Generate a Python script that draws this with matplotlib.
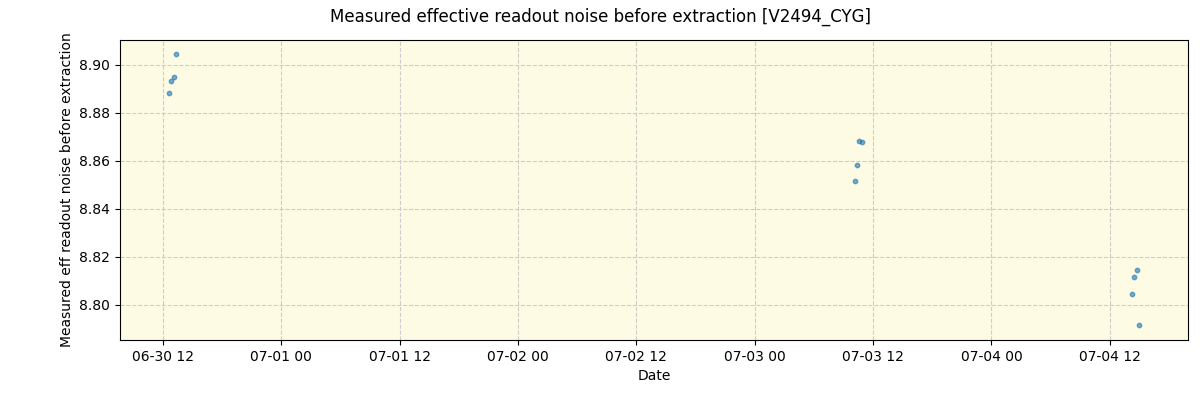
import matplotlib
matplotlib.use("Agg")
import matplotlib.pyplot as plt
import matplotlib.dates as mdates
import pandas as pd

times = pd.to_datetime([
    "2024-06-30 12:37", "2024-06-30 12:49", "2024-06-30 13:07", "2024-06-30 13:19",
    "2024-07-03 10:10", "2024-07-03 10:22", "2024-07-03 10:34", "2024-07-03 10:53",
    "2024-07-04 14:14", "2024-07-04 14:26", "2024-07-04 14:45", "2024-07-04 14:57",
])
noise = [8.8885, 8.8935, 8.8950, 8.9045,
         8.8515, 8.8585, 8.8685, 8.8680,
         8.8045, 8.8115, 8.8145, 8.7915]

fig, ax = plt.subplots(figsize=(12, 4), dpi=100)
ax.set_facecolor("#fdfbe3")
ax.scatter(times, noise, s=10, color="tab:blue", alpha=0.6)
ax.set_xlim(pd.Timestamp("2024-06-30 07:38"), pd.Timestamp("2024-07-04 19:56"))
ax.set_ylim(8.7854, 8.9104)
ax.xaxis.set_major_locator(mdates.HourLocator(byhour=[0, 12]))
ax.xaxis.set_major_formatter(mdates.DateFormatter("%m-%d %H"))
ax.grid(True, linestyle="--", color="#cccccc")
ax.set_xlabel("Date")
ax.set_ylabel("Measured eff readout noise before extraction")
fig.suptitle("Measured effective readout noise before extraction [V2494_CYG]")
fig.subplots_adjust(left=0.1, right=0.99, top=0.9, bottom=0.15)
fig.savefig("out.png")
